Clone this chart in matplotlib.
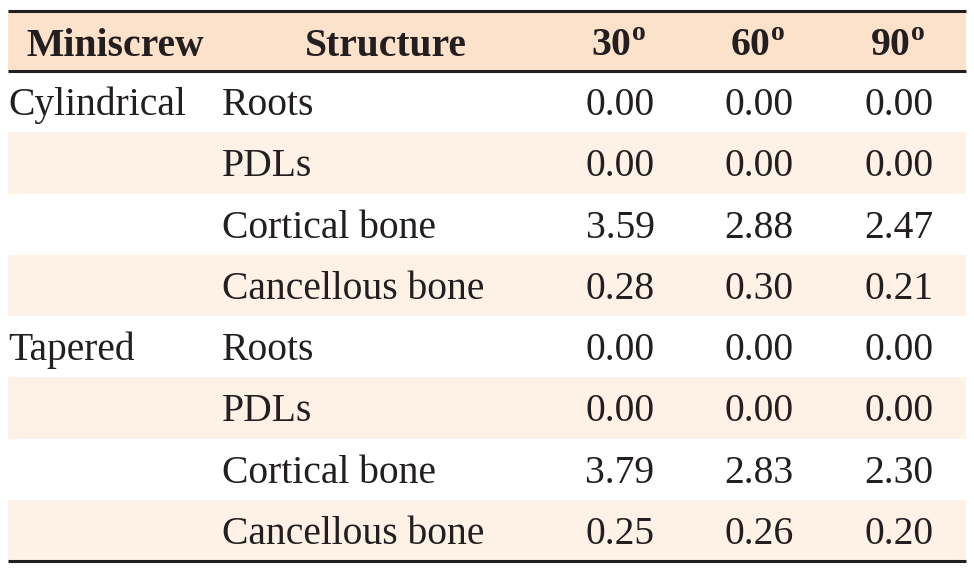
import matplotlib
matplotlib.use("Agg")
import matplotlib.pyplot as plt
from matplotlib.patches import Rectangle

# table content
headers = ["Miniscrew", "Structure", "30", "60", "90"]
miniscrews = ["Cylindrical", "", "", "", "Tapered", "", "", ""]
structures = ["Roots", "PDLs", "Cortical bone", "Cancellous bone",
              "Roots", "PDLs", "Cortical bone", "Cancellous bone"]
deg30 = [0.00, 0.00, 3.59, 0.28, 0.00, 0.00, 3.79, 0.25]
deg60 = [0.00, 0.00, 2.88, 0.30, 0.00, 0.00, 2.83, 0.26]
deg90 = [0.00, 0.00, 2.47, 0.21, 0.00, 0.00, 2.30, 0.20]

plt.rcParams["font.family"] = ["Liberation Serif", "DejaVu Serif"]
plt.rcParams["mathtext.fontset"] = "custom"
plt.rcParams["mathtext.rm"] = "Liberation Serif"
plt.rcParams["mathtext.bf"] = "Liberation Serif:bold"

W, H = 974, 570
fig = plt.figure(figsize=(W / 100, H / 100), dpi=100)
ax = fig.add_axes([0, 0, 1, 1])
ax.set_xlim(0, W)
ax.set_ylim(H, 0)
ax.axis("off")

left, right = 8, 966
top, head_bot = 11, 71
row_h = (561 - head_bot) / len(structures)
head_col = "#fde2cb"
band_col = "#fef1e6"
ink = "#231f20"
fs = 28.5

# header band
ax.add_patch(Rectangle((left, top), right - left, head_bot - top, color=head_col, lw=0))
head_x = [115, 386, 618, 757, 897]
hy = (top + head_bot) / 2 + 5
for i, h in enumerate(headers):
    label = h if i < 2 else h + r"$^{\mathbf{o}}$"
    ax.text(head_x[i], hy, label, ha="center", va="center", fontsize=fs,
            fontweight="bold", color=ink)

# body rows
for r in range(len(structures)):
    y0 = head_bot + r * row_h
    yc = y0 + row_h / 2 + 4
    if r % 2 == 1:
        ax.add_patch(Rectangle((left, y0), right - left, row_h, color=band_col, lw=0))
    ax.text(left, yc, miniscrews[r], ha="left", va="center", fontsize=fs, color=ink)
    ax.text(222, yc, structures[r], ha="left", va="center", fontsize=fs, color=ink)
    for x, vals in zip(head_x[2:], [deg30, deg60, deg90]):
        ax.text(x + 2, yc, f"{vals[r]:.2f}", ha="center", va="center", fontsize=fs, color=ink)

# rules
for y in [top, head_bot, 561]:
    ax.plot([left, right], [y, y], color=ink, lw=2.2, solid_capstyle="butt")

fig.savefig("out.png", dpi=100)
